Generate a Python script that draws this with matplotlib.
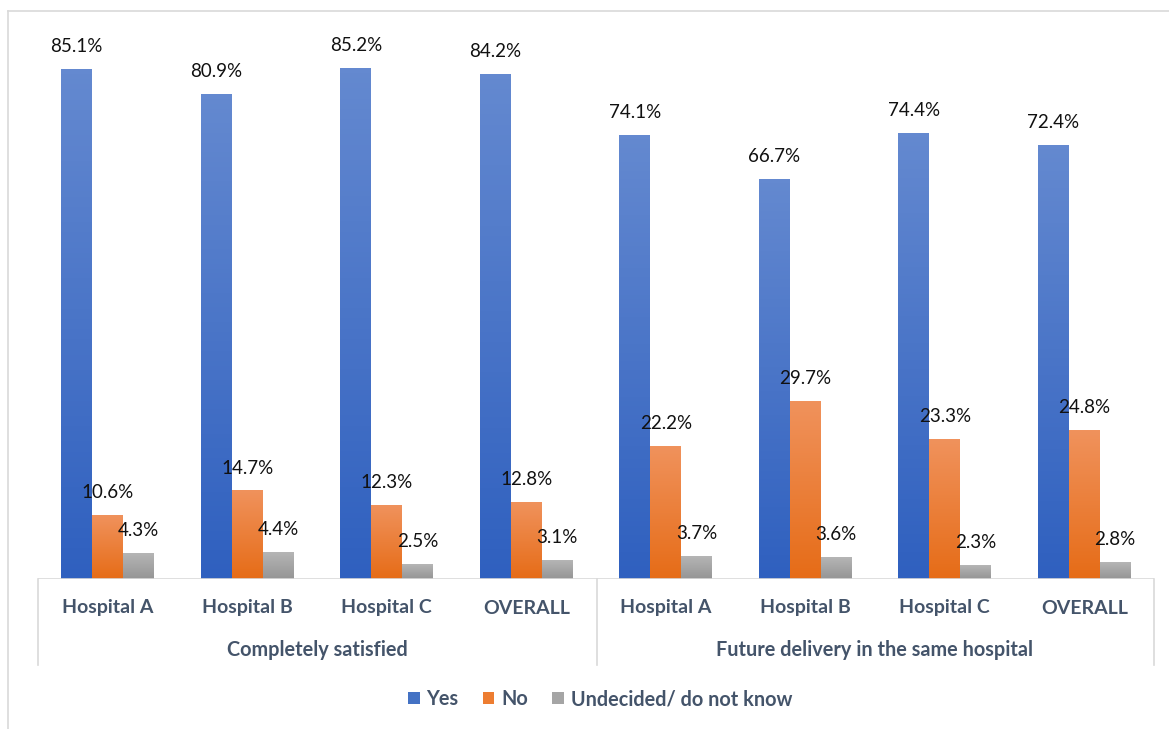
import numpy as np
import matplotlib.pyplot as plt
from matplotlib.colors import LinearSegmentedColormap
from matplotlib.lines import Line2D
from matplotlib.patches import Patch

hospitals = ['Hospital A', 'Hospital B', 'Hospital C', 'OVERALL']
groups = ['Completely satisfied', 'Future delivery in the same hospital']
series = ['Yes', 'No', 'Undecided/ do not know']

yes = [85.1, 80.9, 85.2, 84.2, 74.1, 66.7, 74.4, 72.4]
no = [10.6, 14.7, 12.3, 12.8, 22.2, 29.7, 23.3, 24.8]
undecided = [4.3, 4.4, 2.5, 3.1, 3.7, 3.6, 2.3, 2.8]

# gradient (top colour, bottom colour) per series
grads = [('#6489d0', '#2f60bf'), ('#f0925c', '#e66c17'), ('#b5b5b5', '#959595')]
solid = ['#4472c4', '#ed7d31', '#a5a5a5']
text_col = '#44546a'

plt.rcParams['font.family'] = ['Lato', 'DejaVu Sans']

W, H = 1169, 729
fig = plt.figure(figsize=(W / 100, H / 100), dpi=100)
ymax = 90
ax = fig.add_axes([38 / W, 150 / H, (1154 - 38) / W, (579 - 40) / H])

n = len(yes)
x = np.arange(n)
bw = 0.222
for k, vals in enumerate([yes, no, undecided]):
    cmap = LinearSegmentedColormap.from_list('g%d' % k, [grads[k][1], grads[k][0]])
    xs = x + (k - 1) * bw
    ax.bar(xs, vals, bw, color='none', edgecolor='none')
    for xi, v in zip(xs, vals):
        grad = np.linspace(0, 1, 100).reshape(-1, 1)
        ax.imshow(grad, extent=[xi - bw / 2, xi + bw / 2, 0, v], origin='lower',
                  cmap=cmap, aspect='auto', zorder=2)
        ax.annotate(f'{v:.1f}%', (xi, v), xytext=(0, 16.5), textcoords='offset points',
                    ha='center', va='center', fontsize=13.5, color='#111111', zorder=3)

ax.set_xlim(-0.5, n - 0.5)
ax.set_ylim(0, ymax)
ax.set_xticks([])
ax.set_yticks([])
for s in ax.spines.values():
    s.set_visible(False)
ax.axhline(0, color='#d9d9d9', lw=1.2, zorder=4)

# two-level category axis
for i in range(n):
    fx = (38 + (i + 0.5) * (1154 - 38) / n) / W
    fig.text(fx, (H - 608) / H, hospitals[i % 4], ha='center', va='center',
             fontsize=14, fontweight='bold', color=text_col)
for g, name in enumerate(groups):
    fx = (38 + (g + 0.5) * (1154 - 38) / 2) / W
    fig.text(fx, (H - 650) / H, name, ha='center', va='center',
             fontsize=14.3, fontweight='bold', color=text_col)
for px in [38, 597, 1154]:
    fig.add_artist(Line2D([px / W, px / W], [(H - 579) / H, (H - 665) / H],
                          color='#d9d9d9', lw=1.2))

# outer chart frame
fig.add_artist(Line2D([8 / W, 8 / W], [0, (H - 11) / H], color='#d9d9d9', lw=1.2))
fig.add_artist(Line2D([8 / W, 1], [(H - 11) / H, (H - 11) / H], color='#d9d9d9', lw=1.2))

handles = [Patch(facecolor=c, edgecolor='none') for c in solid]
leg = fig.legend(handles, series, loc='center', bbox_to_anchor=(600 / W, (H - 699) / H),
                 ncol=3, frameon=False, handlelength=0.6, handleheight=0.6,
                 handletextpad=0.35, columnspacing=1.2,
                 prop={'size': 14.3, 'weight': 'bold'})
for t in leg.get_texts():
    t.set_color(text_col)

fig.savefig('out.png', dpi=100, facecolor='white')
